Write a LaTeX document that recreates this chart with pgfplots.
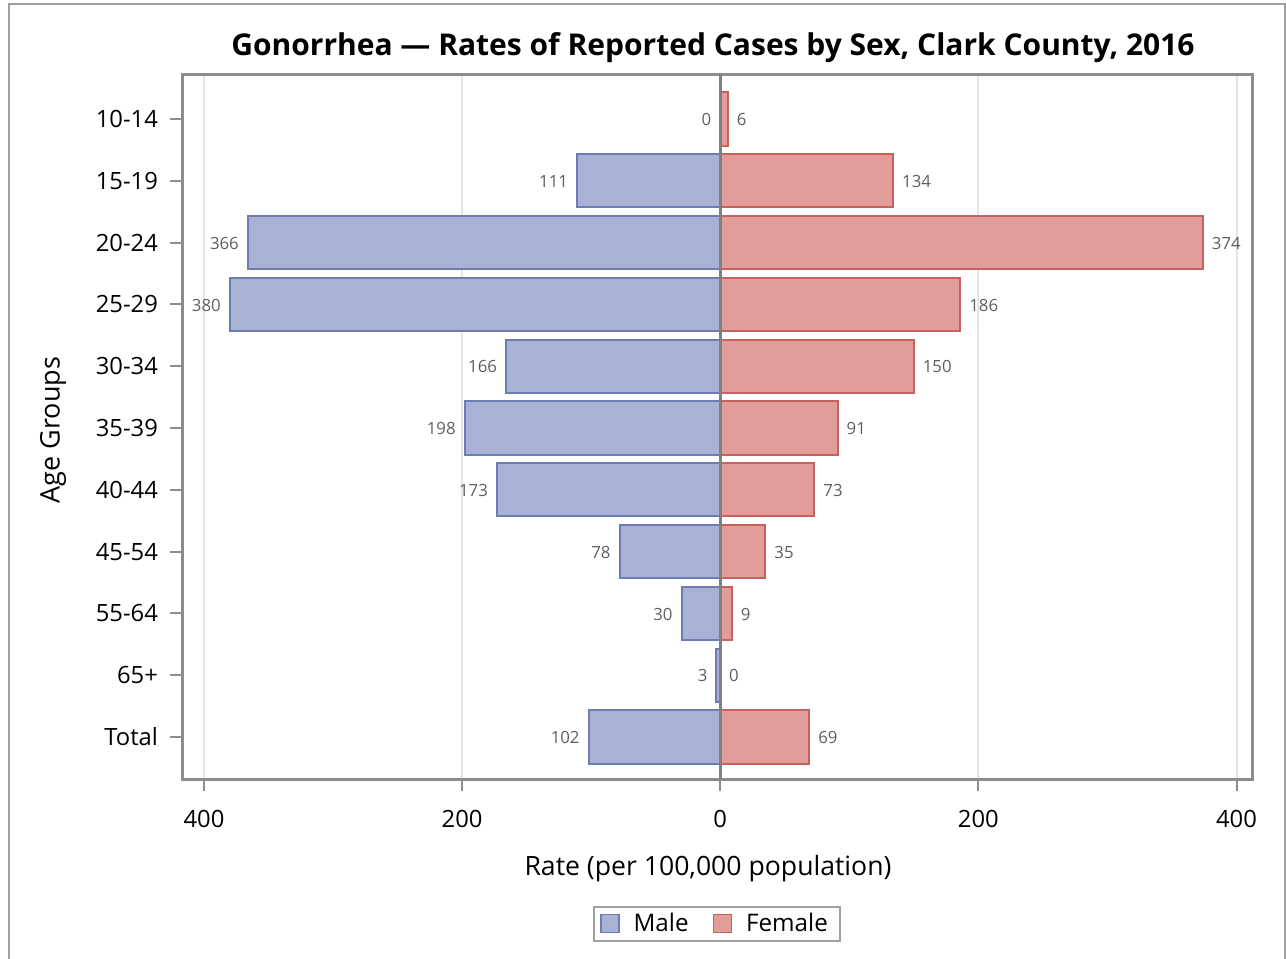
\documentclass[border=0pt]{standalone}
\usepackage{pgfplots}
\pgfplotsset{compat=1.18}
\usepackage{pgfplotstable}
\usepackage{fontspec}
\setmainfont{Open Sans}
\definecolor{maleF}{RGB}{168,178,212}
\definecolor{maleE}{RGB}{110,124,182}
\definecolor{femF}{RGB}{226,157,155}
\definecolor{femE}{RGB}{200,96,94}
\definecolor{axgray}{RGB}{140,140,140}
\definecolor{labgray}{RGB}{95,95,95}
\definecolor{framegray}{RGB}{160,160,160}
\definecolor{gridgray}{RGB}{228,228,228}

\pgfplotstableread{
idx male female
0 0 6
1 111 134
2 366 374
3 380 186
4 166 150
5 198 91
6 173 73
7 78 35
8 30 9
9 3 0
10 102 69
}\data

\begin{document}
\begin{tikzpicture}
\useasboundingbox (0,0) rectangle (643pt,479.5pt);
\draw[framegray, line width=1pt] (4.25pt,-5pt) -- (4.25pt,477.5pt) -- (642.25pt,477.5pt) -- (642.25pt,-5pt);
\begin{axis}[
  at={(91pt,442.5pt)}, anchor=north west,
  scale only axis, width=535pt, height=352.5pt,
  xbar,
  xmin=-417, xmax=412,
  ymin=-0.728, ymax=10.68,
  y dir=reverse,
  xtick={-400,-200,0,200,400},
  xticklabels={400,200,0,200,400},
  ytick={0,...,10},
  yticklabels={10-14,15-19,20-24,25-29,30-34,35-39,40-44,45-54,55-64,65+,Total},
  tick align=outside,
  major tick length=6pt,
  xtick pos=bottom, ytick pos=left,
  every tick/.style={axgray, line width=1pt},
  axis line style={axgray, line width=1.5pt},
  xmajorgrids,
  major grid style={gridgray, line width=1pt},
  tick label style={font=\fontsize{11.9pt}{14pt}\selectfont, text=black},
  xticklabel style={yshift=-6pt},
  yticklabel style={xshift=-2.5pt},
  /pgf/number format/assume math mode=true,
  legend style={at={(0.5,-0.2058)}, anchor=center, legend columns=2,
    draw=framegray, line width=1pt, font=\fontsize{12.1pt}{14pt}\selectfont,
    inner xsep=3pt, inner ysep=1pt,
    /tikz/every even column/.append style={column sep=9pt},
    nodes={inner xsep=3pt}},
  legend image code/.code={\draw[#1, line width=0.75pt] (0pt,-4.25pt) rectangle (9pt,4.75pt);},
  legend cell align=left,
  nodes near coords,
  every node near coord/.append style={font=\fontsize{8.4pt}{10pt}\selectfont, text=labgray, inner xsep=4pt, yshift=-0.4pt},
  point meta=explicit,
]
\addplot[xbar, bar shift=0pt, bar width=0.86, fill=maleF, draw=maleE, line width=1pt,
  every node near coord/.append style={anchor=east}]
  table[x expr=-\thisrow{male}, y=idx, meta=male] {\data};
\addlegendentry{\hspace{4pt}Male}
\addplot[xbar, bar shift=0pt, bar width=0.86, fill=femF, draw=femE, line width=1pt,
  every node near coord/.append style={anchor=west}]
  table[x=female, y=idx, meta=female] {\data};
\addlegendentry{\hspace{4pt}Female}
\draw[gray, line width=1.5pt] (axis cs:0,-0.728) -- (axis cs:0,10.68);
\end{axis}
\node[font=\bfseries\fontsize{15pt}{18pt}\selectfont] at (356.5pt,455.5pt) {Gonorrhea — Rates of Reported Cases by Sex, Clark County, 2016};
\node[font=\fontsize{13.3pt}{16pt}\selectfont] at (354pt,45pt) {Rate (per 100,000 population)};
\node[font=\fontsize{13.5pt}{16pt}\selectfont, rotate=90] at (26.5pt,264.5pt) {Age Groups};
\end{tikzpicture}
\end{document}
